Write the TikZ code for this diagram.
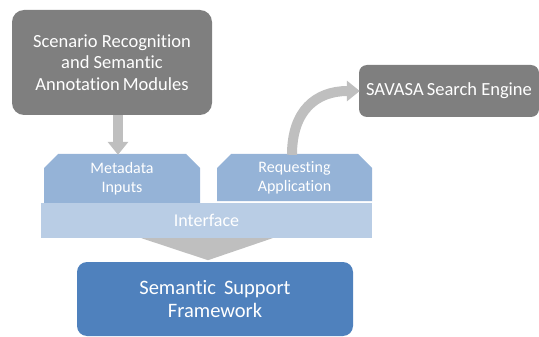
\documentclass[tikz,border=0pt]{standalone}
\usepackage{fontspec}
\setmainfont[Ligatures=CommonOff]{Carlito}
\usetikzlibrary{shapes.misc,arrows.meta}

\definecolor{modgray}{HTML}{7F7F7F}
\definecolor{pipegray}{HTML}{BFBFBF}
\definecolor{inblue}{HTML}{95B3D7}
\definecolor{ifblue}{HTML}{B9CDE5}
\definecolor{ssfblue}{HTML}{4F81BD}

\tikzset{
  darkbox/.style={draw=none,fill=modgray,rounded corners=12pt,text=white,
    align=center,inner sep=0pt},
  inbox/.style={chamfered rectangle,chamfered rectangle corners={north west,north east},
    chamfered rectangle xsep=7pt,chamfered rectangle ysep=7pt,fill=inblue,
    text=white,align=center,inner sep=0pt,font=\fontsize{16}{19}\selectfont},
  pipe/.style={line width=10pt,draw=pipegray,-{Triangle[length=13pt,width=20pt]}}
}

\begin{document}
\begin{tikzpicture}[x=1pt,y=-1pt]
  \useasboundingbox (0,0) rectangle (539,337);

  % modules and search engine
  \node[darkbox,minimum width=200pt,minimum height=105pt,
    font=\fontsize{18.5}{21.5}\selectfont] (scen) at (112,62.5)
    {Scenario Recognition\\and Semantic\\Annotation\,Modules};
  \node[darkbox,rounded corners=8pt,minimum width=180pt,minimum height=52pt,
    font=\fontsize{18.5}{21.5}\selectfont] (savasa) at (449,91)
    {SAVASA\,Search Engine};

  % interface layer
  \node[inbox,minimum width=156pt,minimum height=49pt] (meta) at (122,178.5)
    {Metadata\\Inputs};
  \node[inbox,minimum width=155pt,minimum height=47pt] (req) at (294.5,177.5)
    {Requesting\\Application};
  \node[fill=ifblue,minimum width=331pt,minimum height=35pt,inner sep=0pt,
    text=white,font=\fontsize{18}{21}\selectfont] (iface) at (206.5,220.5)
    {Interface};

  % funnel down to the framework
  \fill[pipegray] ([xshift=-65pt]iface.south) -- ([xshift=66pt]iface.south)
    -- ([xshift=1.5pt,yshift=-22pt]iface.south) -- cycle;
  \node[darkbox,fill=ssfblue,rounded corners=10pt,minimum width=276pt,
    minimum height=74pt,font=\fontsize{20.5}{23.5}\selectfont] (ssf) at (215,299)
    {Semantic\ \,Support\\Framework};

  % arrows
  \draw[pipe] ([xshift=6pt]scen.south) -- ([xshift=-4pt,yshift=-1pt]meta.north);
  \draw[pipe] ([xshift=-2.5pt,yshift=-1pt]req.north) .. controls +(0,-44) and +(-44,0) .. ([xshift=1pt]savasa.west);
\end{tikzpicture}
\end{document}
